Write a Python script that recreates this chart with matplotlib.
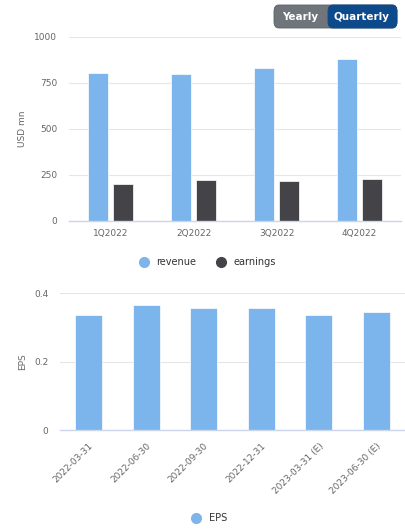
import matplotlib
matplotlib.use('Agg')
import matplotlib.pyplot as plt
from matplotlib.patches import FancyBboxPatch
from matplotlib.lines import Line2D
import numpy as np

quarters = ['1Q2022', '2Q2022', '3Q2022', '4Q2022']
revenue = [803, 797, 830, 880]
earnings = [199, 221, 216, 227]

eps_dates = ['2022-03-31', '2022-06-30', '2022-09-30', '2022-12-31',
             '2023-03-31 (E)', '2023-06-30 (E)']
eps = [0.337, 0.367, 0.356, 0.356, 0.337, 0.346]

blue = '#7cb5ec'
dark = '#434348'
grid_c = '#e6e6e6'
axis_c = '#ccd6eb'
txt_c = '#666666'

W, H = 406, 529
fig = plt.figure(figsize=(W / 100, H / 100), dpi=100)

def style(ax):
    for s in ['top', 'right', 'left']:
        ax.spines[s].set_visible(False)
    ax.spines['bottom'].set_color(axis_c)
    ax.spines['bottom'].set_linewidth(1.0)
    ax.grid(axis='y', color=grid_c, linewidth=0.8)
    ax.set_axisbelow(True)
    ax.tick_params(axis='both', length=0, labelsize=6.5, labelcolor=txt_c)
    ax.tick_params(axis='y', pad=8.5)

# top chart
ax1 = fig.add_axes([69 / W, 1 - 221 / H, 332 / W, 184 / H])
x = np.arange(len(quarters))
ax1.bar(x - 0.15, revenue, width=0.245, color=blue, edgecolor='white', linewidth=0.5)
ax1.bar(x + 0.15, earnings, width=0.245, color=dark, edgecolor='white', linewidth=0.5)
ax1.set_xlim(-0.5, 3.5)
ax1.set_ylim(0, 1000)
ax1.set_yticks([0, 250, 500, 750, 1000])
ax1.set_xticks(x)
ax1.set_xticklabels(quarters)
style(ax1)
ax1.tick_params(axis='x', pad=6)
ax1.set_ylabel('USD mn', fontsize=6.5, color=txt_c, labelpad=5)

# bottom chart
ax2 = fig.add_axes([60 / W, 1 - 430 / H, 345 / W, 136.7 / H])
x2 = np.arange(len(eps_dates))
ax2.bar(x2, eps, width=0.47, color=blue, edgecolor='white', linewidth=0.5)
ax2.set_xlim(-0.5, 5.5)
ax2.set_ylim(0, 0.4)
ax2.set_yticks([0, 0.2, 0.4])
ax2.set_yticklabels(['0', '0.2', '0.4'])
ax2.set_xticks(x2)
ax2.set_xticklabels(eps_dates, rotation=45, ha='right', rotation_mode='anchor')
style(ax2)
ax2.tick_params(axis='x', pad=8)
ax2.set_ylabel('EPS', fontsize=6.5, color=txt_c, labelpad=5)

# legends
def dot(c):
    return Line2D([], [], marker='o', linestyle='none', markersize=7,
                  markerfacecolor=c, markeredgecolor=c)

fig.legend([dot(blue), dot(dark)], ['revenue', 'earnings'], ncol=2,
           loc='center', bbox_to_anchor=(205 / W, 1 - 262 / H), frameon=False,
           fontsize=7, handletextpad=0.3, columnspacing=1.5, labelcolor='#333333')
fig.legend([dot(blue)], ['EPS'], loc='center',
           bbox_to_anchor=(207 / W, 1 - 518 / H), frameon=False,
           fontsize=7, handletextpad=0.3, labelcolor='#333333')

# toggle buttons
btn_y = 1 - 28 / H
btn_h = 23 / H
fig.patches.append(FancyBboxPatch((274 / W, btn_y), 123 / W, btn_h,
                                  boxstyle='round,pad=0,rounding_size=0.012',
                                  transform=fig.transFigure, facecolor='#6f757b',
                                  edgecolor='#5a6066', linewidth=0.6))
fig.patches.append(FancyBboxPatch((328 / W, btn_y), 69 / W, btn_h,
                                  boxstyle='round,pad=0,rounding_size=0.012',
                                  transform=fig.transFigure, facecolor='#0d4a8c',
                                  edgecolor='#0d4a8c', linewidth=0.6))
fig.text(300 / W, 1 - 16.5 / H, 'Yearly', color='white', fontsize=7.5,
         fontweight='bold', ha='center', va='center')
fig.text(362 / W, 1 - 16.5 / H, 'Quarterly', color='white', fontsize=7.5,
         fontweight='bold', ha='center', va='center')

fig.savefig('out.png', dpi=100)
